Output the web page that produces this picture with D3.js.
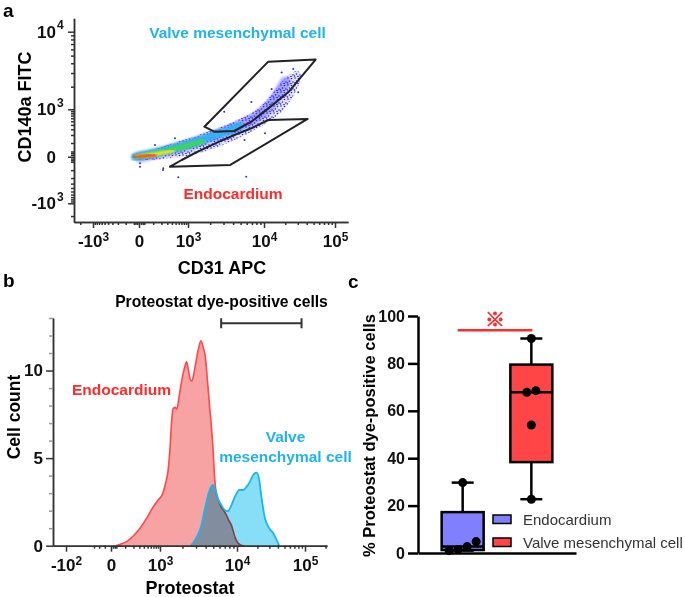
<!DOCTYPE html>
<html>
<head>
<meta charset="utf-8">
<title>Proteostat staining of valve cells</title>
<script src="https://cdn.jsdelivr.net/npm/d3@7"></script>
<style>
  body { margin: 0; background: #fff; }
  svg { display: block; font-family: "Liberation Sans", Arial, sans-serif; }
</style>
</head>
<body>
<div id="figure"></div>
<script>
// ---- panel a : CD31 APC vs CD140a FITC ----
const aXTicks = [-1000, 0, 1000, 10000, 100000];
const aXLabels = [["-10", "3"], ["0", ""], ["10", "3"], ["10", "4"], ["10", "5"]];
const aYTicks = [-1000, 0, 1000, 10000];
const aYLabels = [["-10", "3"], ["0", ""], ["10", "3"], ["10", "4"]];

// gates as [CD31, CD140a]
const valveGate = [[1674, 356], [11497, 4193], [53475, 4449], [21993, 1686], [11497, 1030], [6889, 488], [4154, 267], [2266, 254]];
const endoGate = [[356, -67], [3680, -53], [41263, 574], [11497, 540], [6889, 321], [4154, 200], [2504, 107], [1366, 29], [708, -18.5]];

// event cloud: outer edge and density ridges
const cloudEdge = [[-46, 9], [34, 29], [157, 53], [482, 107], [1119, 161], [1849, 254], [3069, 380], [5089, 598],
  [8414, 1030], [11497, 1386], [15900, 2056], [21993, 2767], [28877, 3209], [33199, 2851], [30414, 2056],
  [24547, 1386], [17759, 874], [11497, 488], [6889, 254], [4154, 133], [2266, 53], [1119, 9], [320, -8.6],
  [58, -18.5], [-23, -12.6]];
const ridgeBlue = [[5, -1.5], [356, 40.4], [1438, 121], [3569, 286], [7612, 608], [12147, 1136], [20000, 2300]];
const ridgeCyan = [[-23, -1.5], [71, 14.6], [356, 47.6], [1062, 95], [1947, 171], [3359, 267], [4832, 373]];
const ridgeGreen = [[-11, -1.5], [71, 11.8], [356, 40.4], [1062, 80.7], [1575, 116]];
const ridgeYellow = [[-11, -1.5], [71, 9], [257, 23.7], [428, 33.4]];
const ridgeRed = [[-30, -4], [34, 3.6], [119, 9]];
const strayEvents = [[17759, 3051], [25858, 3376], [12834, 1865], [6889, 1253], [3069, 874], [1849, 442],
  [482, 154], [119, 80.7], [5, -40], [228, -82], [30414, 1686], [10330, 227], [5623, 133], [224, -98],
  [584, -189], [5922, -180], [5, -67]];

// ---- panel b : Proteostat histograms ----
const bXTicks = [-100, 0, 1000, 10000, 100000];
const bXLabels = [["-10", "2"], ["0", ""], ["10", "3"], ["10", "4"], ["10", "5"]];
const bYTicks = [0, 5, 10];
const endoHistX = [28, 63, 119, 208, 313, 482, 681, 897, 1094, 1196, 1289, 1369, 1432, 1497, 1590, 1688, 1819, 1990,
  2144, 2262, 2381, 2527, 2659, 2806, 2997, 3211, 3480, 3728, 3957, 4201, 4461, 4734, 4952, 5179, 5416, 5837,
  6327, 6780, 7348, 7873, 8535, 9005, 9419, 10345, 11450, 12670];
const endoHistCount = [0, 0.1, 0.25, 0.6, 1.0, 1.6, 2.2, 2.6, 3.0, 3.6, 4.3, 5.6, 7.0, 7.8, 7.9, 7.8, 8.6, 9.6,
  10.2, 10.5, 10.1, 9.5, 9.4, 9.8, 10.5, 11.2, 11.7, 11.3, 10.8, 9.5, 8.1, 6.8, 5.6, 4.0, 3.1, 2.6,
  2.2, 2.0, 1.75, 1.45, 1.15, 0.8, 0.5, 0.15, 0.03, 0];
const valveHistX = [2580, 2997, 3480, 3841, 4239, 4692, 4922, 5337, 5716, 6327, 6986, 7709, 8535, 9419, 10810,
  12378, 13887, 15532, 17368, 19489, 21281, 23078, 25808, 29854, 34194, 38355, 41880];
const valveHistCount = [0, 0.42, 1.08, 1.95, 2.8, 3.37, 3.47, 3.17, 2.7, 2.33, 2.04, 1.98, 2.33, 2.8, 3.18,
  3.18, 3.37, 3.66, 4.04, 4.17, 3.75, 2.7, 1.57, 1.0, 0.71, 0.33, 0];
const positiveGate = [6300, 89000];
const positiveGateLevel = 12.7;

// ---- panel c : % dye-positive cells ----
const groups = ["Endocardium", "Valve mesenchymal cell"];
const endoPercent = [1.0, 1.5, 2.7, 4.8, 29.7];
const valvePercent = [22.7, 54.0, 67.8, 68.5, 90.5];
const cYTicks = [0, 20, 40, 60, 80, 100];
const sigLevel = 94;

const red = "#ff2a2a", cyan = "#1fb4ea";

const svg = d3.select("#figure").append("svg")
  .attr("width", 685)
  .attr("height", 597)
  .attr("viewBox", [0, 0, 685, 597]);

const defs = svg.append("defs");
defs.append("filter").attr("id", "soft")
  .attr("x", "-10%").attr("y", "-10%").attr("width", "120%").attr("height", "120%")
  .append("feGaussianBlur").attr("stdDeviation", 1);
const specks = defs.append("pattern")
  .attr("id", "specks")
  .attr("patternUnits", "userSpaceOnUse")
  .attr("width", 7).attr("height", 7);
specks.selectAll("circle")
  .data([[1, 1], [4.5, 1.5], [2.5, 4], [6, 5], [0.5, 6], [4, 6.5]])
  .join("circle")
  .attr("cx", d => d[0]).attr("cy", d => d[1]).attr("r", 0.8)
  .attr("fill", "#1e1eff");

function styleAxis(g, size) {
  g.attr("font-family", null).attr("font-size", size).attr("font-weight", "bold");
  g.selectAll("path, line").attr("stroke", "#333").attr("stroke-width", 1.5);
  g.selectAll("text").attr("fill", "#111");
}

function superscript(g, ticks, labels) {
  g.selectAll(".tick text").each(function (d) {
    const lab = labels[ticks.indexOf(d)];
    const t = d3.select(this).text(lab[0]);
    if (lab[1]) t.append("tspan").attr("dy", "-0.5em").attr("font-size", "0.7em").text(lab[1]);
  });
}

function minorValues(scale, majors) {
  const d = scale.domain(), lo = d[0], hi = d[d.length - 1];
  const mags = [10, 20, 30];
  for (let k = 2; k <= 5; k++) for (let m = 1; m <= 9; m++) mags.push(m * 10 ** k);
  return mags.flatMap(v => [v, -v]).filter(v => v > lo && v < hi && !majors.includes(v));
}

// ================= panel a =================
const xA = d3.scaleSymlog().constant(100)
  .domain([-2800, -1000, 0, 1000, 1e4, 1e5, 152000])
  .range([74, 93, 139, 188, 264, 335, 348]);
const yA = d3.scaleSymlog().constant(100)
  .domain([-2736, -1000, 0, 1000, 1e4, 14880])
  .range([222, 203.3, 156.7, 109.3, 31.7, 18.3]);
const ptA = d => [xA(d[0]), yA(d[1])];

// cloud
const cloud = svg.append("g");
const edgePath = d3.line().curve(d3.curveCatmullRomClosed)(cloudEdge.map(ptA));
cloud.append("path").attr("d", edgePath).attr("fill", "#5555ff").attr("fill-opacity", 0.16);
cloud.append("path").attr("d", edgePath).attr("fill", "url(#specks)");
const ridgeLine = d3.line().curve(d3.curveCatmullRom);
[[ridgeBlue, "#2e2eff", 11, 0.38], [ridgeCyan, "#2fb2f6", 8, 0.9], [ridgeGreen, "#3ad85a", 5.5, 0.95],
 [ridgeYellow, "#ece236", 3.8, 1], [ridgeRed, "#ff3a12", 3, 1]].forEach(([pts, col, w, op]) => {
  cloud.append("path")
    .attr("d", ridgeLine(pts.map(ptA)))
    .attr("fill", "none")
    .attr("stroke", col)
    .attr("stroke-width", w)
    .attr("stroke-opacity", op)
    .attr("stroke-linecap", "round")
    .attr("filter", "url(#soft)");
});
cloud.selectAll(".stray")
  .data(strayEvents)
  .join("circle")
  .attr("class", "stray")
  .attr("cx", d => xA(d[0]))
  .attr("cy", d => yA(d[1]))
  .attr("r", 1)
  .attr("fill", "#2a2aff");

// gates
const gateLine = d3.line().curve(d3.curveLinearClosed);
[valveGate, endoGate].forEach(gate => {
  svg.append("path")
    .attr("d", gateLine(gate.map(ptA)))
    .attr("fill", "none")
    .attr("stroke", "#222")
    .attr("stroke-width", 2)
    .attr("stroke-linejoin", "round");
});

// axes
const axA = svg.append("g")
  .attr("transform", "translate(0,222)")
  .call(d3.axisBottom(xA).tickValues(aXTicks).tickSize(6).tickPadding(7).tickSizeOuter(0).tickFormat(String));
styleAxis(axA, 17);
superscript(axA, aXTicks, aXLabels);
styleAxis(svg.append("g")
  .attr("transform", "translate(0,222)")
  .call(d3.axisBottom(xA).tickValues(minorValues(xA, aXTicks)).tickSize(3).tickSizeOuter(0).tickFormat("")), 10);

const ayA = svg.append("g")
  .attr("transform", "translate(74,0)")
  .call(d3.axisLeft(yA).tickValues(aYTicks).tickSize(6).tickPadding(12).tickSizeOuter(0).tickFormat(String));
styleAxis(ayA, 17);
ayA.selectAll(".tick").each(function (d) {
  const lab = aYLabels[aYTicks.indexOf(d)];
  const tick = d3.select(this);
  tick.select("text").text(lab[0]);
  if (lab[1]) tick.append("text")
    .attr("x", -17)
    .attr("y", -3)
    .attr("fill", "#111")
    .attr("font-size", 12)
    .attr("text-anchor", "start")
    .text(lab[1]);
});
styleAxis(svg.append("g")
  .attr("transform", "translate(74,0)")
  .call(d3.axisLeft(yA).tickValues(minorValues(yA, aYTicks)).tickSize(3).tickSizeOuter(0).tickFormat("")), 10);

svg.append("text")
  .attr("transform", "translate(30.5,107) rotate(-90)")
  .attr("text-anchor", "middle")
  .attr("font-size", 18)
  .attr("font-weight", "bold")
  .text("CD140a FITC");
svg.append("text")
  .attr("x", 222).attr("y", 274)
  .attr("text-anchor", "middle")
  .attr("font-size", 18)
  .attr("font-weight", "bold")
  .text("CD31 APC");
svg.append("text")
  .attr("x", 237.5).attr("y", 37.5)
  .attr("text-anchor", "middle")
  .attr("font-size", 15.5)
  .attr("font-weight", "bold")
  .attr("fill", cyan)
  .text("Valve mesenchymal cell");
svg.append("text")
  .attr("x", 233).attr("y", 199)
  .attr("text-anchor", "middle")
  .attr("font-size", 15.5)
  .attr("font-weight", "bold")
  .attr("fill", red)
  .text("Endocardium");

// ================= panel b =================
const xB = d3.scaleSymlog().constant(100)
  .domain([-144, -100, 0, 1000, 1e4, 1e5, 210000])
  .range([53, 66, 111, 160, 237, 305, 327]);
const yB = d3.scaleLinear().domain([0, 13]).range([545.7, 318]);

const endoHist = endoHistX.map((x, i) => [x, endoHistCount[i]]);
const valveHist = valveHistX.map((x, i) => [x, valveHistCount[i]]);
const histArea = d3.area().curve(d3.curveMonotoneX)
  .x(d => xB(d[0])).y0(yB(0)).y1(d => yB(d[1]));
const histLine = d3.line().curve(d3.curveMonotoneX)
  .x(d => xB(d[0])).y(d => yB(d[1]));

svg.append("path").attr("d", histArea(endoHist)).attr("fill", "#f8a3a3");
svg.append("path").attr("d", histLine(endoHist)).attr("fill", "none").attr("stroke", "#ff4848").attr("stroke-width", 1.6);
svg.append("path").attr("d", histArea(valveHist)).attr("fill", "#86def7").style("mix-blend-mode", "multiply");
svg.append("path").attr("d", histLine(valveHist)).attr("fill", "none").attr("stroke", "#1cb6ec").attr("stroke-width", 1.8);

const axB = svg.append("g")
  .attr("transform", `translate(0,${yB(0)})`)
  .call(d3.axisBottom(xB).tickValues(bXTicks).tickSize(6).tickPadding(7).tickSizeOuter(0).tickFormat(String));
styleAxis(axB, 17);
superscript(axB, bXTicks, bXLabels);
styleAxis(svg.append("g")
  .attr("transform", `translate(0,${yB(0)})`)
  .call(d3.axisBottom(xB).tickValues(minorValues(xB, bXTicks)).tickSize(3).tickSizeOuter(0).tickFormat("")), 10);

const ayB = svg.append("g")
  .attr("transform", "translate(53,0)")
  .call(d3.axisLeft(yB).tickValues(bYTicks).tickSize(7).tickPadding(3).tickSizeOuter(0));
styleAxis(ayB, 17);
const minorB = svg.append("g")
  .attr("transform", "translate(53,0)")
  .call(d3.axisLeft(yB).tickValues(d3.range(1, 14).filter(v => v % 5)).tickSize(4).tickSizeOuter(0).tickFormat(""));
styleAxis(minorB, 10);
minorB.selectAll("line").attr("stroke", "#999");

// gate bracket
const bracket = svg.append("g").attr("stroke", "#333").attr("stroke-width", 2);
bracket.append("line")
  .attr("x1", xB(positiveGate[0])).attr("x2", xB(positiveGate[1]))
  .attr("y1", yB(positiveGateLevel)).attr("y2", yB(positiveGateLevel));
positiveGate.forEach(v => bracket.append("line")
  .attr("x1", xB(v)).attr("x2", xB(v))
  .attr("y1", yB(positiveGateLevel) - 5).attr("y2", yB(positiveGateLevel) + 5));

svg.append("text")
  .attr("x", 221.5).attr("y", 306.5)
  .attr("text-anchor", "middle")
  .attr("font-size", 15.7)
  .attr("font-weight", "bold")
  .text("Proteostat dye-positive cells");
svg.append("text")
  .attr("transform", "translate(19.5,417) rotate(-90)")
  .attr("text-anchor", "middle")
  .attr("font-size", 17.5)
  .attr("font-weight", "bold")
  .text("Cell count");
svg.append("text")
  .attr("x", 190).attr("y", 594)
  .attr("text-anchor", "middle")
  .attr("font-size", 18)
  .attr("font-weight", "bold")
  .text("Proteostat");
svg.append("text")
  .attr("x", 72).attr("y", 395)
  .attr("font-size", 15.5)
  .attr("font-weight", "bold")
  .attr("fill", red)
  .text("Endocardium");
svg.append("text")
  .attr("x", 285.5).attr("y", 441.5)
  .attr("text-anchor", "middle")
  .attr("font-size", 15.5)
  .attr("font-weight", "bold")
  .attr("fill", cyan)
  .text("Valve");
svg.append("text")
  .attr("x", 285.5).attr("y", 461.5)
  .attr("text-anchor", "middle")
  .attr("font-size", 15.5)
  .attr("font-weight", "bold")
  .attr("fill", cyan)
  .text("mesenchymal cell");

// ================= panel c =================
const yC = d3.scaleLinear().domain([0, 100]).range([553, 316]);
const xC = d3.scalePoint().domain(groups).range([418, 576]).padding(0.65);
const boxColor = d3.scaleOrdinal(groups, ["#8080ff", "#ff4545"]);
const boxW = 42, capW = 22;

const ayC = svg.append("g")
  .attr("transform", "translate(418,0)")
  .call(d3.axisLeft(yC).tickValues(cYTicks).tickSize(10).tickPadding(3).tickSizeOuter(0));
styleAxis(ayC, 16);
ayC.selectAll("path, line").attr("stroke", "#000").attr("stroke-width", 2.5);
const axC = svg.append("g")
  .attr("transform", `translate(0,${yC(0)})`)
  .call(d3.axisBottom(xC).tickValues([]).tickSizeOuter(0));
axC.select("path").attr("stroke", "#000").attr("stroke-width", 2.5);

[endoPercent, valvePercent].forEach((vals, gi) => {
  const name = groups[gi];
  const s = vals.slice().sort(d3.ascending);
  const n = s.length;
  const q1 = d3.median(s.slice(0, Math.floor(n / 2)));
  const q3 = d3.median(s.slice(Math.ceil(n / 2)));
  const med = d3.median(s);
  const cx = xC(name);
  const g = svg.append("g").attr("stroke", "#000").attr("stroke-width", 2.5);

  g.append("line").attr("x1", cx).attr("x2", cx).attr("y1", yC(q3)).attr("y2", yC(s[n - 1]));
  g.append("line").attr("x1", cx).attr("x2", cx).attr("y1", yC(q1)).attr("y2", yC(s[0]));
  [s[0], s[n - 1]].forEach(v => g.append("line")
    .attr("x1", cx - capW / 2).attr("x2", cx + capW / 2)
    .attr("y1", yC(v)).attr("y2", yC(v)));
  g.append("rect")
    .attr("x", cx - boxW / 2).attr("width", boxW)
    .attr("y", yC(q3)).attr("height", yC(q1) - yC(q3))
    .attr("fill", boxColor(name));
  g.append("line")
    .attr("x1", cx - boxW / 2).attr("x2", cx + boxW / 2)
    .attr("y1", yC(med)).attr("y2", yC(med));

  // spread dots that sit close together, like a scatter dot plot
  const clusters = [];
  s.forEach(v => {
    const last = clusters[clusters.length - 1];
    if (last && v - last[last.length - 1] < 4) last.push(v);
    else clusters.push([v]);
  });
  clusters.forEach(c => c.forEach((v, i) => {
    svg.append("circle")
      .attr("cx", cx + (i - (c.length - 1) / 2) * 9)
      .attr("cy", yC(v))
      .attr("r", 4.5)
      .attr("fill", "#000");
  }));
});

svg.append("line")
  .attr("x1", xC(groups[0]) - 5).attr("x2", xC(groups[1]) + 1)
  .attr("y1", yC(sigLevel)).attr("y2", yC(sigLevel))
  .attr("stroke", red).attr("stroke-width", 2.5);
svg.append("text")
  .attr("x", (xC(groups[0]) + xC(groups[1])) / 2 - 2)
  .attr("y", yC(sigLevel) - 3)
  .attr("text-anchor", "middle")
  .attr("font-family", '"Noto Sans CJK JP", "DejaVu Sans", sans-serif')
  .attr("font-size", 20)
  .attr("font-weight", "bold")
  .attr("fill", red)
  .attr("stroke", red)
  .attr("stroke-width", 0.8)
  .text("※");

svg.append("text")
  .attr("transform", `translate(375,${(yC(0) + yC(100)) / 2 + 1}) rotate(-90)`)
  .attr("text-anchor", "middle")
  .attr("font-size", 16.5)
  .attr("font-weight", "bold")
  .text("% Proteostat dye-positive cells");

const legend = svg.selectAll(".legend")
  .data(groups)
  .join("g")
  .attr("class", "legend")
  .attr("transform", (d, i) => `translate(493,${515 + i * 23})`);
legend.append("rect")
  .attr("width", 18).attr("height", 8.5)
  .attr("fill", d => boxColor(d))
  .attr("stroke", "#000").attr("stroke-width", 1.5);
legend.append("text")
  .attr("x", 30).attr("y", 4.25)
  .attr("dy", "0.35em")
  .attr("font-size", 15)
  .attr("fill", "#333")
  .text(d => d);

// panel letters
[["a", 3, 17], ["b", 3, 287], ["c", 348, 288]].forEach(([t, x, y]) => {
  svg.append("text").attr("x", x).attr("y", y)
    .attr("font-size", 19).attr("font-weight", "bold").text(t);
});
</script>
</body>
</html>
